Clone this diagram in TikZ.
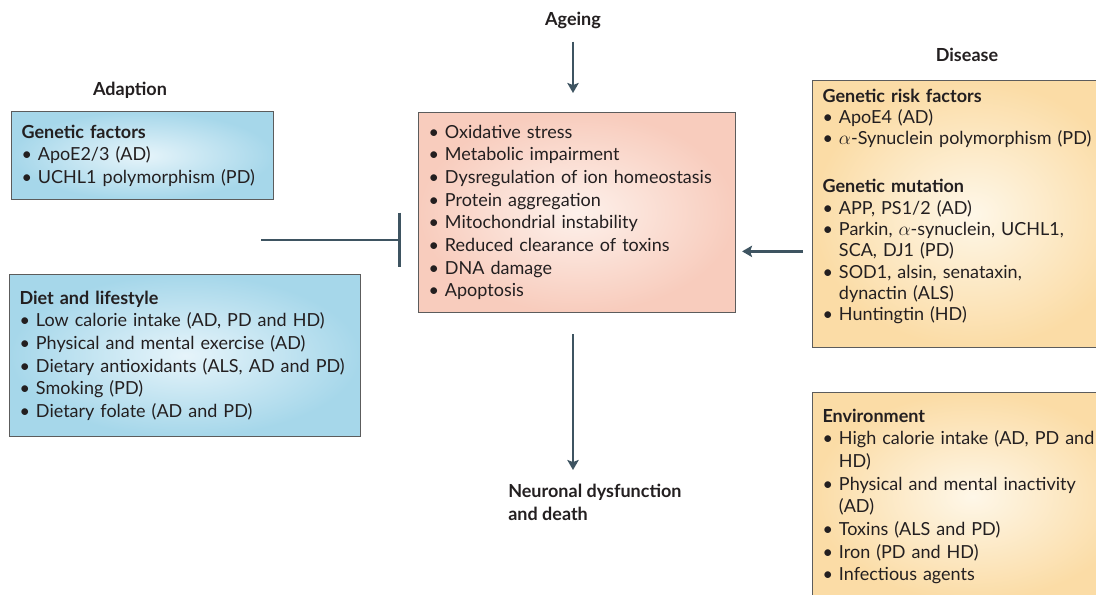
\documentclass[tikz,border=0pt]{standalone}
\usepackage{fontspec}
\setmainfont{Lato}
\usetikzlibrary{arrows.meta}
\definecolor{FigureSlate}{HTML}{3E5461}
\definecolor{FigureEdge}{HTML}{5C5C5C}
\definecolor{FigureInk}{HTML}{231F20}
\definecolor{BlueOut}{HTML}{A6D7EA}
\definecolor{BlueIn}{HTML}{E6F4FA}
\definecolor{PinkOut}{HTML}{F8CCBD}
\definecolor{PinkIn}{HTML}{FDF1EB}
\definecolor{SandOut}{HTML}{FBDCA6}
\definecolor{SandIn}{HTML}{FEF7E8}
\newcommand{\itm}[1]{\textbullet\ #1}
\newcommand{\cnt}[1]{\phantom{\textbullet\ }#1}

\begin{document}
\begin{tikzpicture}[x=.75pt,y=-.75pt,
  heading/.style={font=\fontsize{13.5pt}{17pt}\selectfont\bfseries,text=FigureInk,inner sep=0pt},
  listbox/.style={draw=FigureEdge,line width=.8pt,anchor=north west,align=left,
    inner xsep=7.5pt,inner ysep=0pt,text=FigureInk,
    font=\fontsize{13.5pt}{17pt}\selectfont},
  bluebox/.style={listbox,inner color=BlueIn,outer color=BlueOut},
  pinkbox/.style={listbox,inner color=PinkIn,outer color=PinkOut},
  sandbox/.style={listbox,inner color=SandIn,outer color=SandOut},
  arr/.style={FigureSlate,line width=2.2pt,-{Stealth[length=7.5pt,width=8.5pt,inset=1.5pt]}},
  inhib/.style={FigureSlate,line width=2.2pt,-{Bar[width=41pt,line width=2.2pt]}}]
  \useasboundingbox (0,0) rectangle (1096,594);
  \clip (0,0) rectangle (1096,594);

  % labels
  \node[heading] (ageing) at (573,20) {Ageing};
  \node[heading] (disease) at (967,55) {Disease};
  \node[heading] (adaption) at (130,90) {Adaption};
  \node[heading,anchor=north west,align=left] (death) at (508,484) {Neuronal dysfunction\\and death};

  % boxes
  \node[bluebox,minimum width=196.5pt,minimum height=66pt,text width=181.5pt] (genfac) at (11,111)
    {\textbf{Genetic factors}\\
     \itm{ApoE2/3 (AD)}\\
     \itm{UCHL1 polymorphism (PD)}};
  \node[bluebox,minimum width=263.25pt,minimum height=121.5pt,text width=248.25pt] (diet) at (9,274)
    {\textbf{Diet and lifestyle}\\
     \itm{Low calorie intake (AD, PD and HD)}\\
     \itm{Physical and mental exercise (AD)}\\
     \itm{Dietary antioxidants (ALS, AD and PD)}\\
     \itm{Smoking (PD)}\\
     \itm{Dietary folate (AD and PD)}};
  \node[pinkbox,minimum width=237.75pt,minimum height=150pt,text width=222.75pt] (stress) at (418,112)
    {\itm{Oxidative stress}\\
     \itm{Metabolic impairment}\\
     \itm{Dysregulation of ion homeostasis}\\
     \itm{Protein aggregation}\\
     \itm{Mitochondrial instability}\\
     \itm{Reduced clearance of toxins}\\
     \itm{DNA damage}\\
     \itm{Apoptosis}};
  \node[sandbox,minimum width=240pt,minimum height=200.25pt,text width=225pt,
    font=\fontsize{13.5pt}{16pt}\selectfont] (risk) at (812,80)
    {\textbf{Genetic risk factors}\\
     \itm{ApoE4 (AD)}\\
     \itm{$\alpha$-Synuclein polymorphism (PD)}\\[20pt]
     \textbf{Genetic mutation}\\
     \itm{APP, PS1/2 (AD)}\\
     \itm{Parkin, $\alpha$-synuclein, UCHL1,}\\
     \cnt{SCA, DJ1 (PD)}\\
     \itm{SOD1, alsin, senataxin,}\\
     \cnt{dynactin (ALS)}\\
     \itm{Huntingtin (HD)}\rule[-14pt]{0pt}{14pt}};
  \node[sandbox,minimum width=240pt,minimum height=156pt,text width=225pt] (envir) at (812,392)
    {\textbf{Environment}\\
     \itm{High calorie intake (AD, PD and}\\
     \cnt{HD)}\\
     \itm{Physical and mental inactivity}\\
     \cnt{(AD)}\\
     \itm{Toxins (ALS and PD)}\\
     \itm{Iron (PD and HD)}\\
     \itm{Infectious agents}};

  % connectors
  \coordinate (adapt) at (261,240);
  \draw[arr,shorten <=9.75pt,shorten >=14.25pt] (ageing) -- (ageing |- stress.north);
  \draw[arr,shorten <=15.75pt,shorten >=10.5pt] (stress.south -| ageing) -- (ageing |- death.north);
  \draw[arr,shorten <=6.75pt,shorten >=4.5pt] ([yshift=-28pt]risk.west) -- ([yshift=-28pt]risk.west -| stress.east);
  \draw[inhib,shorten >=12.75pt] (adapt) -- (adapt -| stress.west);
\end{tikzpicture}
\end{document}
